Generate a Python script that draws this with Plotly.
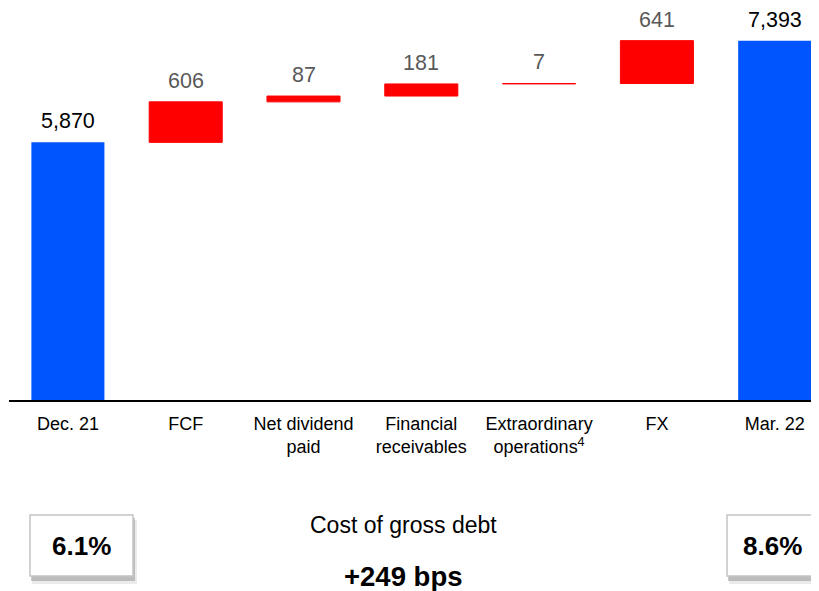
import plotly.graph_objects as go

# data
categories = ["Dec. 21", "FCF", "Net dividend<br>paid", "Financial<br>receivables",
              "Extraordinary<br>operations<sup>4</sup>", "FX", "Mar. 22"]
values = [5870, 606, 87, 181, 7, 641, 7393]
measures = ["absolute", "relative", "relative", "relative", "relative", "relative", "total"]
labels = ["5,870", "606", "87", "181", "7", "641", "7,393"]
cost_start = "6.1%"
cost_end = "8.6%"
cost_delta = "+249 bps"

# page has an 8px body margin, so the figure is drawn 8px smaller and offsets are page pixels
OFF = 8
W, H = 819 - OFF, 591 - OFF
L, T, B = 1, 0, 190
PW, PH = W - L, H - T - B
Y0 = 2000
SCALE = 401 / 6000  # px per unit

def px_x(px):
    return (px - OFF - L) / PW

def px_y(py):
    return (401 - py) / PH

x = list(range(len(categories)))

fig = go.Figure(go.Waterfall(
    x=x, y=values, measure=measures,
    width=0.62,
    increasing=dict(marker=dict(color="#ff0000", line=dict(color="#ff0000", width=1))),
    decreasing=dict(marker=dict(color="#ff0000")),
    totals=dict(marker=dict(color="#0055ff", line=dict(width=0))),
    connector=dict(visible=False),
    showlegend=False,
    hoverinfo="skip",
))

# value labels on top of each bar
running = 0
for i, (v, m, lab) in enumerate(zip(values, measures, labels)):
    if m == "absolute" or m == "total":
        top = v
        running = v
        col = "#000000"
    else:
        running += v
        top = running
        col = "#595959"
    fig.add_annotation(x=i, y=top, text=lab, showarrow=False, yanchor="bottom",
                       yshift=7, font=dict(size=21.5, color=col))

# bottom boxes with soft shadow
for x0, x1, txt in [(30, 133, cost_start), (727, 818, cost_end)]:
    fig.add_shape(type="rect", xref="paper", yref="paper",
                  x0=px_x(x0 + 2), x1=px_x(x1 + 4), y0=px_y(584), y1=px_y(520),
                  fillcolor="rgba(0,0,0,0.08)", line=dict(width=0), layer="below")
    fig.add_shape(type="rect", xref="paper", yref="paper",
                  x0=px_x(x0 + 1), x1=px_x(x1 + 2), y0=px_y(581), y1=px_y(518),
                  fillcolor="rgba(0,0,0,0.2)", line=dict(width=0), layer="below")
    fig.add_shape(type="rect", xref="paper", yref="paper",
                  x0=px_x(x0), x1=px_x(x1), y0=px_y(576), y1=px_y(515),
                  fillcolor="white", line=dict(color="#c4c4c4", width=1.5))
    fig.add_annotation(xref="paper", yref="paper", x=px_x((x0 + x1) / 2), y=px_y(546),
                       xanchor="center", yanchor="middle",
                       text="<b>" + txt + "</b>", showarrow=False,
                       font=dict(size=26, color="#000000"))

fig.add_annotation(xref="paper", yref="paper", x=px_x(403), y=px_y(525),
                   xanchor="center", yanchor="middle",
                   text="Cost of gross debt", showarrow=False,
                   font=dict(size=23, color="#000000"))
fig.add_annotation(xref="paper", yref="paper", x=px_x(403), y=px_y(576),
                   xanchor="center", yanchor="middle", borderpad=0,
                   text="<b>" + cost_delta + "</b>", showarrow=False,
                   font=dict(size=27.5, color="#000000"))

fig.update_layout(
    width=W, height=H,
    margin=dict(l=L, r=0, t=T, b=B),
    plot_bgcolor="white", paper_bgcolor="white",
    font=dict(family="Liberation Sans, Arial", size=18, color="#000000"),
    xaxis=dict(range=[-0.5, -0.5 + PW / 117.8], tickvals=x, ticktext=categories,
               showgrid=False, zeroline=False, showline=False, ticks="",
               ticklabelstandoff=10,
               tickfont=dict(size=18, color="#000000")),
    yaxis=dict(range=[Y0, Y0 + PH / SCALE], visible=False, showgrid=False),
)
fig.add_shape(type="line", xref="paper", yref="paper", x0=0, x1=1, y0=0, y1=0,
              line=dict(color="#000000", width=2))

fig.write_html("out.html")
